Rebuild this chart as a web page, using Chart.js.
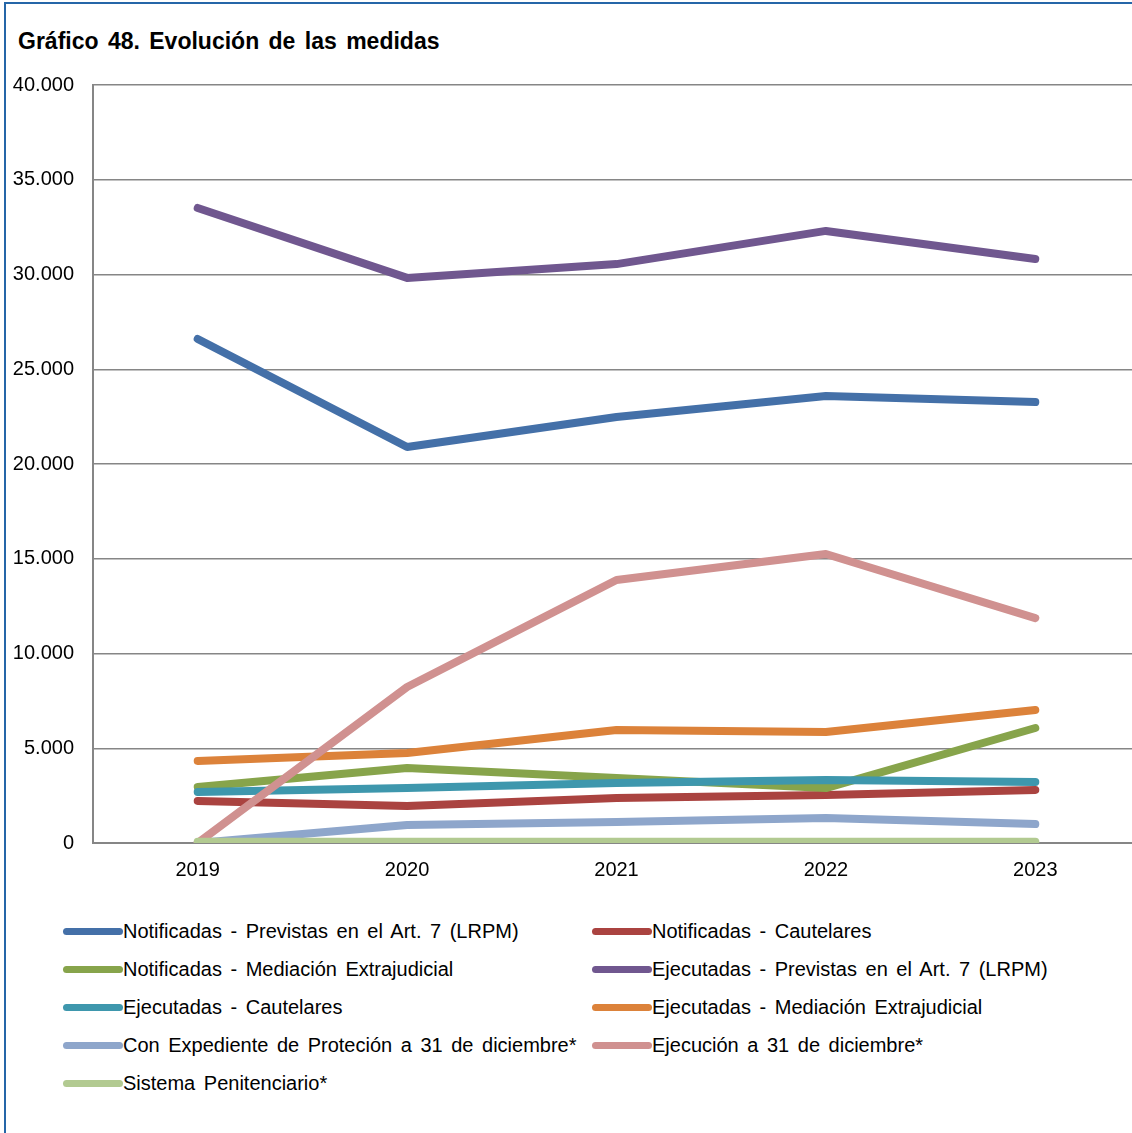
<!DOCTYPE html>
<html>
<head>
<meta charset="utf-8">
<script src="https://cdn.jsdelivr.net/npm/chart.js@4/dist/chart.umd.min.js"></script>
<style>
    html, body { margin: 0; padding: 0; background: #fff; overflow: hidden; }
    body { width: 1132px; height: 1133px; position: relative; font-family: Arial, "Liberation Sans", sans-serif; }
    #frame { position: absolute; left: 4px; top: 2px; width: 1140px; height: 1140px; border-left: 2px solid #2566a8; border-top: 2px solid #2566a8; }
    #title { position: absolute; left: 18px; top: 28px; font-size: 23px; font-weight: bold; color: #000; word-spacing: 3px; }
    #wrap { position: absolute; left: 0; top: 0; width: 1140px; height: 900px; }
    #legend { position: absolute; left: 63px; top: 919px; width: 1060px; }
    .item { position: absolute; height: 24px; font-size: 20px; color: #000; white-space: nowrap; }
    .item span.sw { position: absolute; left: 0; top: 9px; width: 60px; height: 7px; border-radius: 4px; }
    .item span.tx { position: absolute; left: 60px; top: 0; line-height: 24px; word-spacing: 3px; }
</style>
</head>
<body>
<div id="frame"></div>
<div id="title">Gráfico 48. Evolución de las medidas</div>
<div id="wrap"><canvas id="medidasChart"></canvas></div>
<div id="legend"></div>
<script>
// Years on the x axis
const years = ['2019', '2020', '2021', '2022', '2023'];

// Series
const notifPrevistas = [26600, 20900, 22480, 23590, 23270];
const notifCautelares = [2220, 1950, 2380, 2530, 2800];
const notifMediacion = [2960, 3960, 3430, 2900, 6070];
const ejecPrevistas = [33510, 29820, 30550, 32300, 30820];
const ejecCautelares = [2690, 2900, 3170, 3320, 3220];
const ejecMediacion = [4330, 4750, 5960, 5860, 7020];
const conExpediente = [0, 950, 1110, 1320, 1000];
const ejecucion31 = [0, 8230, 13880, 15250, 11870];
const sistemaPenit = [60, 60, 60, 60, 60];

const seriesLabels = [
    'Notificadas - Previstas en el Art. 7 (LRPM)',
    'Notificadas - Cautelares',
    'Notificadas - Mediación Extrajudicial',
    'Ejecutadas  - Previstas en el Art. 7 (LRPM)',
    'Ejecutadas  - Cautelares',
    'Ejecutadas  - Mediación Extrajudicial',
    'Con Expediente  de Proteción a 31 de diciembre*',
    'Ejecución  a 31 de diciembre*',
    'Sistema Penitenciario*'
];
const seriesData = [notifPrevistas, notifCautelares, notifMediacion, ejecPrevistas,
    ejecCautelares, ejecMediacion, conExpediente, ejecucion31, sistemaPenit];
const seriesColors = ['#4470a8', '#aa4340', '#87a44b', '#70578f', '#3e97ad',
    '#dc823a', '#8ea6cb', '#d09190', '#b2ca91'];

const yTicks = [0, 5000, 10000, 15000, 20000, 25000, 30000, 35000, 40000];

function fmt(v) {
    return v.toLocaleString('de-DE');
}

const datasets = seriesLabels.map((label, i) => ({
    label: label,
    data: seriesData[i],
    borderColor: seriesColors[i],
    backgroundColor: seriesColors[i],
    borderWidth: 8,
    pointRadius: 0,
    borderCapStyle: 'round',
    borderJoinStyle: 'round',
    tension: 0,
    fill: false,
    order: seriesLabels.length - i // later series on top, like the original
}));

const ctx = document.getElementById('medidasChart').getContext('2d');
new Chart(ctx, {
    type: 'line',
    data: { labels: years, datasets: datasets },
    options: {
        responsive: true,
        maintainAspectRatio: false,
        animation: false,
        layout: { padding: { top: 85, left: 0, right: 0, bottom: 0 } },
        scales: {
            x: {
                offset: true,
                grid: { display: false, drawTicks: false },
                border: { display: true, color: '#868686', width: 2 },
                ticks: { color: '#000', font: { family: 'Arial', size: 20 }, padding: 15, maxRotation: 0 },
                afterFit: scale => { scale.height = 57; }
            },
            y: {
                min: 0,
                max: 40000,
                afterBuildTicks: scale => { scale.ticks = yTicks.map(v => ({ value: v })); },
                grid: { color: '#868686', lineWidth: 1.5, drawTicks: false },
                border: { display: true, color: '#868686', width: 2 },
                ticks: {
                    color: '#000',
                    font: { family: 'Arial', size: 20 },
                    padding: 19,
                    callback: v => fmt(v)
                },
                afterFit: scale => { scale.width = 93; }
            }
        },
        plugins: {
            legend: { display: false },
            tooltip: { enabled: false }
        }
    }
});

// Legend in two columns, like the original
const legend = document.getElementById('legend');
seriesLabels.forEach((label, i) => {
    const item = document.createElement('div');
    item.className = 'item';
    item.style.left = (i % 2 === 0 ? 0 : 529) + 'px';
    item.style.top = (Math.floor(i / 2) * 38) + 'px';
    item.innerHTML = '<span class="sw" style="background:' + seriesColors[i] + '"></span>' +
        '<span class="tx"></span>';
    item.querySelector('.tx').textContent = label;
    legend.appendChild(item);
});
</script>
</body>
</html>
